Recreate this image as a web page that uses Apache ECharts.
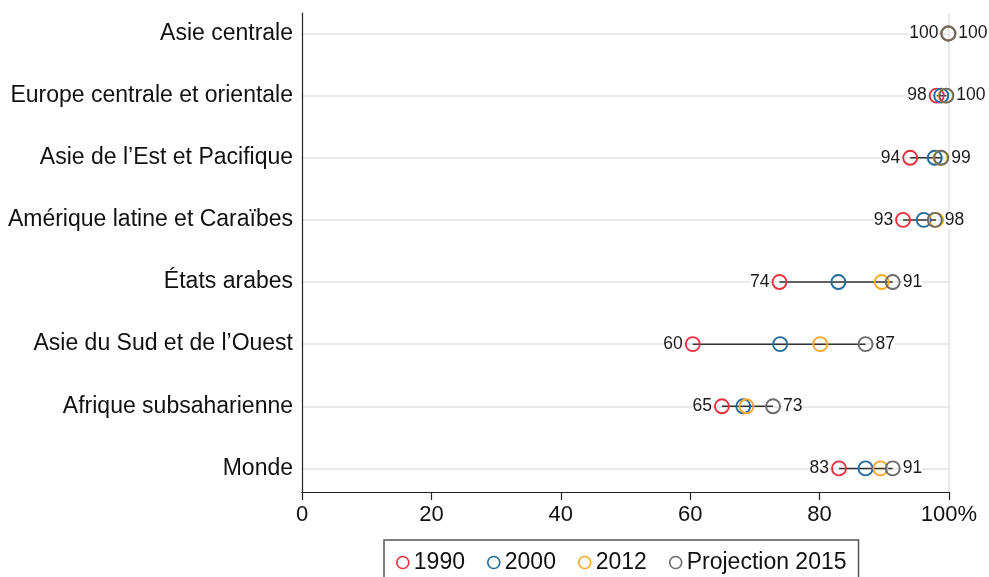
<!DOCTYPE html>
<html>
<head>
<meta charset="utf-8">
<script src="https://cdn.jsdelivr.net/npm/echarts@6/dist/echarts.min.js"></script>
<style>html,body{margin:0;padding:0;background:#fff;}#c{width:989px;height:577px;}</style>
</head>
<body>
<div id="c"></div>
<script>
const categories = ["Asie centrale", "Europe centrale et orientale", "Asie de l\u2019Est et Pacifique", "Am\u00e9rique latine et Cara\u00efbes", "\u00c9tats arabes", "Asie du Sud et de l\u2019Ouest", "Afrique subsaharienne", "Monde"];
const seriesNames = ["1990", "2000", "2012", "Projection 2015"];
const v1990 = [99.9, 98.1, 94.0, 92.9, 73.8, 60.4, 64.9, 83.0];
const v2000 = [99.9, 98.8, 97.8, 96.1, 82.9, 73.9, 68.2, 87.1];
const v2012 = [99.9, 99.5, 98.7, 98.0, 89.6, 80.1, 68.7, 89.4];
const v2015 = [99.9, 99.6, 98.8, 97.8, 91.3, 87.1, 72.8, 91.3];
const xTicks = [0, 20, 40, 60, 80, 100];

const colors = ['#e3323b', '#1e6c9b', '#f9a825', '#6b6b6b'];
const all = [v1990, v2000, v2012, v2015];
const font = 'Liberation Sans, Arial, sans-serif';

const rangeData = categories.map((c, i) => {
  const vals = all.map(a => a[i]);
  return [Math.min(...vals), Math.max(...vals), i];
});

function scatter(idx, labelPos) {
  return {
    name: seriesNames[idx],
    type: 'scatter',
    symbol: 'circle',
    symbolSize: 14,
    z: 3 + idx,
    itemStyle: { color: 'rgba(255,255,255,0)', borderColor: colors[idx], borderWidth: 1.9, opacity: 1 },
    data: all[idx].map((v, i) => [v, i]),
    label: labelPos ? {
      show: true, position: labelPos, distance: 2,
      fontSize: 17.5, fontFamily: font, color: '#1a1a1a', opacity: 1,
      backgroundColor: '#fff', padding: [0, 0, 0, 0],
      formatter: p => Math.round(p.value[0])
    } : { show: false },
    emphasis: { disabled: true }
  };
}

const chart = echarts.init(document.getElementById('c'), null, { renderer: 'canvas' });
chart.setOption({
  animation: false,
  backgroundColor: '#fff',
  grid: { left: 302, right: 40, top: 13, bottom: 85 },
  xAxis: {
    type: 'value', min: 0, max: 100, interval: 20,
    axisLine: { show: true, onZero: false, lineStyle: { color: '#222', width: 1.2 } },
    axisTick: { show: true, length: 8, lineStyle: { color: '#222', width: 1.2 } },
    splitLine: { show: false },
    axisLabel: {
      fontSize: 22, fontFamily: font, color: '#111', margin: 12,
      formatter: v => xTicks.includes(v) ? (v === 100 ? '100%' : String(v)) : ''
    }
  },
  yAxis: {
    type: 'value', inverse: true, min: -0.33, max: 7.38,
    minInterval: 1, maxInterval: 1,
    axisLine: { show: true, onZero: false, lineStyle: { color: '#222', width: 1.2 } },
    axisTick: { show: false },
    splitLine: { show: false },
    axisLabel: {
      fontSize: 23, fontFamily: font, color: '#111', margin: 9,
      showMinLabel: false, showMaxLabel: false,
      formatter: v => (Number.isInteger(v) && categories[v] !== undefined) ? categories[v] : ''
    }
  },
  legend: {
    data: seriesNames,
    left: 384, top: 540,
    icon: 'circle',
    itemWidth: 12, itemHeight: 12, itemGap: 22,
    padding: [11, 12, 10, 12],
    borderColor: '#555', borderWidth: 1.5,
    textStyle: { fontSize: 23, fontFamily: font, color: '#111' },
    itemStyle: { color: 'rgba(255,255,255,0)', borderWidth: 1.6 }
  },
  series: [
    {
      name: 'grid', type: 'scatter', z: 0, zlevel: 0, data: [],
      silent: true,
      markLine: {
        silent: true, symbol: 'none', animation: false, z: 0,
        label: { show: false },
        lineStyle: { color: '#e2e2e2', width: 1.5, type: 'solid' },
        data: categories.map((c, i) => ({ yAxis: i })).concat([{ xAxis: 100 }])
      }
    },
    {
      name: 'range', type: 'custom', z: 2,
      encode: { x: [0, 1], y: 2 },
      data: rangeData,
      renderItem: (params, api) => {
        const p1 = api.coord([api.value(0), api.value(2)]);
        const p2 = api.coord([api.value(1), api.value(2)]);
        return { type: 'line', shape: { x1: p1[0], y1: p1[1], x2: p2[0], y2: p2[1] },
                 style: { stroke: '#333', lineWidth: 1.5 } };
      }
    },
    scatter(0, 'left'),
    scatter(1, null),
    scatter(2, null),
    scatter(3, 'right')
  ]
});
</script>
</body>
</html>
